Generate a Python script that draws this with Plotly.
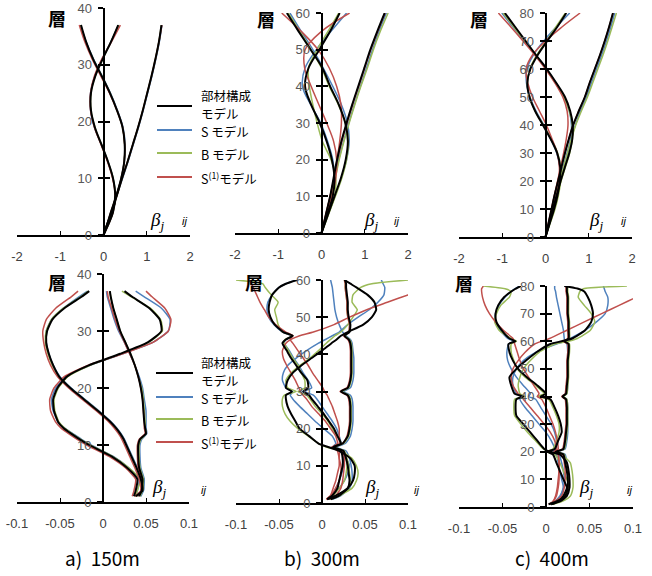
import plotly.graph_objects as go

W, H = 652, 576
COL = {"black": "#000000", "blue": "#4f81bd", "green": "#9bbb59", "red": "#c0504d"}
MODELS = ["blue", "green", "red", "black"]

# ---------------- top a) 150m : mode shapes ----------------
TA_F = [0, 2, 4, 7, 10, 13, 16, 19, 22, 25, 28, 31, 34, 37]
TA_BLACK = [[0, 0.09, 0.19, 0.31, 0.43, 0.56, 0.68, 0.8, 0.91, 1.01, 1.11, 1.2, 1.28, 1.34],
            [0, 0.09, 0.17, 0.3, 0.41, 0.48, 0.49, 0.44, 0.31, 0.15, -0.04, -0.24, -0.4, -0.52],
            [0, 0.12, 0.22, 0.27, 0.22, 0.1, -0.05, -0.2, -0.29, -0.29, -0.19, -0.02, 0.17, 0.34]]
TA_BLUE = [[0, 0.09, 0.19, 0.31, 0.44, 0.57, 0.69, 0.81, 0.92, 1.02, 1.12, 1.21, 1.29, 1.35],
           [0, 0.09, 0.17, 0.3, 0.41, 0.48, 0.5, 0.45, 0.32, 0.16, -0.03, -0.23, -0.4, -0.53],
           [0, 0.12, 0.22, 0.27, 0.22, 0.1, -0.05, -0.21, -0.3, -0.3, -0.2, -0.03, 0.17, 0.35]]
TA_GREEN = [[0, 0.09, 0.19, 0.31, 0.43, 0.56, 0.68, 0.8, 0.91, 1.01, 1.11, 1.2, 1.28, 1.34],
            [0, 0.09, 0.17, 0.3, 0.41, 0.48, 0.49, 0.44, 0.31, 0.15, -0.04, -0.24, -0.41, -0.53],
            [0, 0.12, 0.22, 0.27, 0.22, 0.1, -0.05, -0.2, -0.29, -0.29, -0.19, -0.02, 0.17, 0.35]]
TA_RED = [[0, 0.09, 0.19, 0.31, 0.43, 0.56, 0.68, 0.8, 0.91, 1.01, 1.11, 1.2, 1.28, 1.35],
          [0, 0.09, 0.17, 0.3, 0.41, 0.48, 0.49, 0.44, 0.31, 0.14, -0.06, -0.26, -0.43, -0.56],
          [0, 0.12, 0.22, 0.27, 0.21, 0.09, -0.06, -0.21, -0.3, -0.3, -0.21, -0.04, 0.18, 0.39]]

# ---------------- top b) 300m ----------------
TB_F = [0, 5, 10, 15, 20, 25, 30, 35, 40, 45, 50, 55, 60]
TB_BLACK = [[0, 0.1, 0.2, 0.28, 0.36, 0.46, 0.58, 0.71, 0.85, 0.99, 1.13, 1.29, 1.46],
            [0, 0.15, 0.3, 0.45, 0.56, 0.61, 0.55, 0.4, 0.2, 0.02, -0.25, -0.53, -0.8],
            [0, 0.13, 0.26, 0.3, 0.24, 0.12, -0.04, -0.24, -0.38, -0.3, -0.05, 0.2, 0.42]]
TB_BLUE = [[0, 0.11, 0.22, 0.31, 0.4, 0.51, 0.63, 0.76, 0.9, 1.04, 1.18, 1.33, 1.5],
           [0, 0.15, 0.31, 0.46, 0.58, 0.64, 0.6, 0.46, 0.26, 0.04, -0.2, -0.47, -0.73],
           [0, 0.12, 0.24, 0.3, 0.26, 0.14, -0.02, -0.25, -0.44, -0.38, -0.12, 0.22, 0.58]]
TB_GREEN = [[0, 0.11, 0.22, 0.32, 0.41, 0.52, 0.64, 0.77, 0.91, 1.06, 1.2, 1.36, 1.54],
            [0, 0.16, 0.32, 0.47, 0.58, 0.62, 0.55, 0.39, 0.18, 0.0, -0.24, -0.5, -0.77],
            [0, 0.15, 0.3, 0.33, 0.22, 0.02, -0.1, -0.2, -0.28, -0.3, -0.1, 0.15, 0.4]]
TB_RED = [[0, 0.1, 0.2, 0.29, 0.37, 0.47, 0.59, 0.72, 0.86, 1.0, 1.14, 1.3, 1.47],
          [0, 0.1, 0.2, 0.29, 0.36, 0.42, 0.46, 0.45, 0.35, 0.18, -0.08, -0.47, -0.92],
          [0, 0.12, 0.24, 0.33, 0.35, 0.28, 0.12, -0.06, -0.24, -0.39, -0.38, 0.0, 0.65]]

# ---------------- top c) 400m ----------------
TC_F = [0, 5, 10, 15, 20, 25, 30, 35, 40, 45, 50, 55, 60, 65, 70, 75, 80]
TC_BLACK = [[0, 0.07, 0.14, 0.21, 0.29, 0.37, 0.45, 0.54, 0.64, 0.77, 0.91, 1.02, 1.14, 1.26, 1.37, 1.47, 1.56],
            [0, 0.09, 0.17, 0.26, 0.35, 0.45, 0.55, 0.62, 0.63, 0.57, 0.45, 0.25, 0.03, -0.22, -0.46, -0.7, -0.94],
            [0, 0.1, 0.2, 0.28, 0.33, 0.34, 0.27, 0.12, -0.06, -0.24, -0.37, -0.42, -0.35, -0.18, 0.04, 0.27, 0.48]]
TC_BLUE = [[0, 0.08, 0.16, 0.24, 0.32, 0.41, 0.5, 0.59, 0.69, 0.81, 0.95, 1.06, 1.18, 1.3, 1.41, 1.51, 1.6],
           [0, 0.08, 0.16, 0.24, 0.33, 0.42, 0.51, 0.58, 0.6, 0.55, 0.43, 0.24, 0.02, -0.23, -0.49, -0.75, -1.01],
           [0, 0.1, 0.2, 0.28, 0.33, 0.33, 0.26, 0.12, -0.04, -0.22, -0.36, -0.44, -0.43, -0.28, -0.04, 0.25, 0.56]]
TC_GREEN = [[0, 0.08, 0.16, 0.25, 0.33, 0.42, 0.51, 0.6, 0.7, 0.83, 0.97, 1.09, 1.21, 1.33, 1.44, 1.54, 1.64],
            [0, 0.09, 0.18, 0.27, 0.36, 0.46, 0.56, 0.62, 0.62, 0.55, 0.42, 0.23, 0.01, -0.23, -0.48, -0.73, -0.98],
            [0, 0.11, 0.22, 0.3, 0.35, 0.35, 0.28, 0.13, -0.05, -0.24, -0.37, -0.42, -0.36, -0.2, 0.02, 0.24, 0.46]]
TC_RED = [[0, 0.07, 0.14, 0.21, 0.29, 0.37, 0.45, 0.54, 0.64, 0.77, 0.91, 1.02, 1.14, 1.26, 1.37, 1.47, 1.56],
          [0, 0.07, 0.14, 0.21, 0.28, 0.35, 0.42, 0.48, 0.52, 0.5, 0.4, 0.22, 0.0, -0.25, -0.52, -0.8, -1.09],
          [0, 0.09, 0.18, 0.26, 0.31, 0.32, 0.27, 0.15, 0.02, -0.14, -0.3, -0.41, -0.45, -0.3, 0.0, 0.38, 0.8]]

# ---------------- bottom a) 150m : beta ----------------
BA_F = [1, 2, 4, 6, 8, 10, 11, 12, 13, 14, 16, 18, 20, 22, 24, 26, 28, 30, 32, 34, 36, 37]
BA_BLACK = [[0.042, 0.045, 0.046, 0.042, 0.041, 0.041, 0.043, 0.05, 0.049, 0.048, 0.047, 0.046, 0.044, 0.041, 0.037, 0.032, 0.026, 0.02, 0.016, 0.012, 0.009, 0.008],
            [0.038, 0.046, 0.044, 0.039, 0.033, 0.027, 0.024, 0.02, 0.015, 0.009, -0.006, -0.022, -0.038, -0.051, -0.058, -0.063, -0.066, -0.065, -0.059, -0.045, -0.025, -0.016],
            [0.036, 0.038, 0.04, 0.028, 0.01, -0.016, -0.027, -0.037, -0.046, -0.052, -0.057, -0.058, -0.053, -0.042, -0.016, 0.02, 0.052, 0.068, 0.066, 0.054, 0.034, 0.025]]
BA_BLUE = [[0.044, 0.047, 0.048, 0.044, 0.043, 0.043, 0.045, 0.051, 0.05, 0.05, 0.05, 0.048, 0.046, 0.042, 0.037, 0.031, 0.025, 0.018, 0.013, 0.009, 0.005, 0.004],
           [0.04, 0.047, 0.045, 0.04, 0.034, 0.028, 0.025, 0.021, 0.016, 0.01, -0.005, -0.021, -0.037, -0.05, -0.058, -0.063, -0.066, -0.066, -0.06, -0.046, -0.028, -0.018],
           [0.038, 0.04, 0.042, 0.03, 0.012, -0.014, -0.025, -0.035, -0.045, -0.052, -0.058, -0.06, -0.055, -0.043, -0.015, 0.023, 0.058, 0.076, 0.078, 0.068, 0.048, 0.038]]
BA_GREEN = [[0.043, 0.046, 0.047, 0.043, 0.042, 0.042, 0.044, 0.05, 0.049, 0.049, 0.048, 0.047, 0.045, 0.041, 0.037, 0.032, 0.026, 0.02, 0.016, 0.012, 0.009, 0.008],
            [0.039, 0.046, 0.044, 0.039, 0.033, 0.027, 0.024, 0.02, 0.015, 0.009, -0.006, -0.022, -0.038, -0.051, -0.059, -0.064, -0.067, -0.066, -0.06, -0.046, -0.026, -0.017],
            [0.037, 0.04, 0.043, 0.03, 0.011, -0.015, -0.026, -0.036, -0.045, -0.051, -0.056, -0.057, -0.052, -0.041, -0.015, 0.021, 0.053, 0.069, 0.067, 0.055, 0.033, 0.022]]
BA_RED = [[0.041, 0.044, 0.045, 0.041, 0.04, 0.04, 0.042, 0.049, 0.048, 0.048, 0.047, 0.046, 0.044, 0.041, 0.037, 0.031, 0.025, 0.019, 0.014, 0.01, 0.006, 0.005],
          [0.037, 0.044, 0.042, 0.037, 0.031, 0.025, 0.022, 0.018, 0.013, 0.007, -0.008, -0.024, -0.04, -0.053, -0.061, -0.066, -0.069, -0.07, -0.066, -0.055, -0.037, -0.029],
          [0.034, 0.036, 0.038, 0.026, 0.007, -0.019, -0.03, -0.04, -0.049, -0.055, -0.061, -0.062, -0.057, -0.045, -0.017, 0.023, 0.058, 0.076, 0.079, 0.072, 0.057, 0.05]]

# ---------------- bottom b) 300m ----------------
BB_F = [1, 2, 4, 6, 8, 10, 12, 14, 15, 16, 18, 20, 22, 24, 26, 28, 29, 30, 31, 33, 35, 37, 39, 41, 43, 44, 45, 46, 48, 50, 52, 54, 56, 58, 59, 60]
BB_BLACK = [[0.01, 0.02, 0.03, 0.032, 0.031, 0.03, 0.028, 0.025, 0.013, 0.024, 0.03, 0.032, 0.033, 0.033, 0.033, 0.032, 0.03, 0.022, 0.03, 0.033, 0.034, 0.034, 0.034, 0.034, 0.033, 0.031, 0.026, 0.032, 0.033, 0.031, 0.03, 0.03, 0.029, 0.028, 0.028, 0.027],
            [0.006, 0.016, 0.03, 0.036, 0.038, 0.038, 0.033, 0.02, 0.008, -0.004, -0.015, -0.026, -0.031, -0.036, -0.04, -0.042, -0.042, -0.035, -0.042, -0.04, -0.034, -0.024, -0.012, 0.0, 0.011, 0.017, 0.022, 0.03, 0.048, 0.058, 0.063, 0.061, 0.053, 0.04, 0.033, 0.026],
            [0.006, 0.012, 0.018, 0.02, 0.022, 0.024, 0.024, 0.022, 0.013, 0.022, 0.018, 0.014, 0.008, 0.002, -0.005, -0.012, -0.015, -0.022, -0.016, -0.017, -0.024, -0.03, -0.036, -0.041, -0.046, -0.042, -0.034, -0.045, -0.055, -0.06, -0.062, -0.061, -0.058, -0.05, -0.042, -0.029]]
BB_BLUE = [[0.012, 0.022, 0.032, 0.035, 0.035, 0.034, 0.032, 0.028, 0.016, 0.027, 0.033, 0.035, 0.036, 0.036, 0.036, 0.035, 0.033, 0.025, 0.033, 0.036, 0.037, 0.037, 0.037, 0.036, 0.035, 0.033, 0.028, 0.024, 0.02, 0.017, 0.015, 0.014, 0.013, 0.012, 0.011, 0.01],
           [0.006, 0.012, 0.02, 0.026, 0.03, 0.032, 0.028, 0.02, 0.012, 0.016, 0.012, 0.002, -0.008, -0.017, -0.026, -0.034, -0.037, -0.034, -0.042, -0.046, -0.045, -0.04, -0.03, -0.018, -0.004, 0.004, 0.012, 0.02, 0.03, 0.042, 0.055, 0.065, 0.072, 0.073, 0.071, 0.069],
           [0.006, 0.012, 0.016, 0.02, 0.023, 0.025, 0.025, 0.022, 0.014, 0.022, 0.02, 0.017, 0.012, 0.006, 0.0, -0.006, -0.01, -0.02, -0.012, -0.016, -0.022, -0.027, -0.033, -0.038, -0.044, -0.042, -0.035, -0.046, -0.056, -0.062, -0.064, -0.063, -0.058, -0.05, -0.042, -0.03]]
BB_GREEN = [[0.01, 0.021, 0.031, 0.033, 0.032, 0.031, 0.029, 0.026, 0.014, 0.025, 0.031, 0.033, 0.034, 0.034, 0.034, 0.033, 0.031, 0.023, 0.031, 0.034, 0.035, 0.035, 0.035, 0.035, 0.034, 0.032, 0.027, 0.031, 0.032, 0.03, 0.029, 0.029, 0.028, 0.027, 0.027, 0.026],
            [0.008, 0.02, 0.035, 0.04, 0.042, 0.04, 0.035, 0.022, 0.006, -0.004, -0.016, -0.028, -0.037, -0.043, -0.046, -0.046, -0.044, -0.03, -0.04, -0.042, -0.036, -0.026, -0.014, -0.004, 0.005, 0.01, 0.015, 0.022, 0.03, 0.036, 0.041, 0.035, 0.036, 0.045, 0.058, 0.1],
            [0.008, 0.013, 0.02, 0.026, 0.028, 0.029, 0.028, 0.024, 0.014, 0.022, 0.018, 0.012, 0.007, 0.0, -0.008, -0.014, -0.018, -0.028, -0.02, -0.02, -0.024, -0.028, -0.034, -0.039, -0.044, -0.043, -0.034, -0.046, -0.051, -0.053, -0.055, -0.051, -0.059, -0.066, -0.069, -0.1]]
BB_RED = [[0.008, 0.016, 0.022, 0.024, 0.025, 0.026, 0.026, 0.024, 0.012, 0.024, 0.029, 0.031, 0.032, 0.032, 0.032, 0.031, 0.029, 0.021, 0.029, 0.032, 0.033, 0.033, 0.033, 0.033, 0.032, 0.03, 0.025, 0.031, 0.032, 0.03, 0.029, 0.029, 0.028, 0.027, 0.027, 0.026],
          [0.005, 0.01, 0.016, 0.02, 0.022, 0.022, 0.02, 0.018, 0.012, 0.018, 0.016, 0.01, 0.004, -0.004, -0.012, -0.018, -0.022, -0.025, -0.027, -0.031, -0.036, -0.041, -0.045, -0.046, -0.042, -0.036, -0.026, -0.01, 0.014, 0.032, 0.052, 0.076, 0.1, 0.125, 0.135, 0.145],
          [0.005, 0.01, 0.013, 0.016, 0.018, 0.02, 0.02, 0.02, 0.011, 0.02, 0.02, 0.02, 0.018, 0.015, 0.012, 0.008, 0.006, 0.003, 0.001, -0.005, -0.011, -0.016, -0.022, -0.028, -0.034, -0.037, -0.034, -0.042, -0.054, -0.062, -0.067, -0.072, -0.076, -0.08, -0.082, -0.084]]

# ---------------- bottom c) 400m ----------------
BC_F = [1, 2, 4, 7, 10, 13, 16, 19, 20, 21, 24, 27, 30, 33, 36, 39, 40, 41, 44, 47, 50, 53, 56, 59, 60, 61, 64, 67, 70, 73, 76, 78, 79, 80]
BC_BLACK = [[0.003, 0.012, 0.022, 0.025, 0.025, 0.024, 0.022, 0.02, 0.011, 0.02, 0.022, 0.023, 0.024, 0.024, 0.024, 0.023, 0.019, 0.023, 0.024, 0.025, 0.025, 0.025, 0.026, 0.026, 0.021, 0.026, 0.026, 0.026, 0.025, 0.025, 0.025, 0.024, 0.024, 0.024],
            [0.006, 0.016, 0.024, 0.027, 0.027, 0.026, 0.024, 0.016, 0.004, -0.002, -0.01, -0.018, -0.026, -0.034, -0.035, -0.034, -0.026, -0.036, -0.04, -0.042, -0.034, -0.023, -0.011, 0.005, 0.018, 0.03, 0.045, 0.052, 0.054, 0.052, 0.048, 0.044, 0.037, 0.021],
            [0.006, 0.014, 0.02, 0.024, 0.02, 0.016, 0.012, 0.008, 0.002, 0.01, 0.014, 0.018, 0.017, 0.014, 0.01, 0.005, -0.006, 0.0, -0.01, -0.022, -0.032, -0.038, -0.042, -0.043, -0.035, -0.042, -0.051, -0.057, -0.058, -0.055, -0.048, -0.04, -0.035, -0.029]]
BC_BLUE = [[0.004, 0.013, 0.023, 0.026, 0.026, 0.025, 0.024, 0.022, 0.013, 0.022, 0.024, 0.025, 0.025, 0.025, 0.025, 0.024, 0.02, 0.024, 0.025, 0.025, 0.025, 0.025, 0.025, 0.024, 0.022, 0.021, 0.02, 0.018, 0.016, 0.014, 0.012, 0.011, 0.01, 0.01],
           [0.005, 0.01, 0.016, 0.02, 0.021, 0.02, 0.018, 0.015, 0.008, 0.01, 0.006, 0.0, -0.008, -0.016, -0.024, -0.03, -0.026, -0.034, -0.038, -0.038, -0.034, -0.026, -0.012, 0.012, 0.022, 0.028, 0.045, 0.058, 0.068, 0.071, 0.071, 0.068, 0.067, 0.066],
           [0.005, 0.012, 0.017, 0.02, 0.018, 0.016, 0.014, 0.012, 0.006, 0.012, 0.012, 0.01, 0.006, 0.0, -0.006, -0.012, -0.02, -0.018, -0.026, -0.034, -0.04, -0.044, -0.045, -0.043, -0.037, -0.044, -0.053, -0.058, -0.058, -0.054, -0.047, -0.04, -0.036, -0.03]]
BC_GREEN = [[0.004, 0.013, 0.023, 0.026, 0.026, 0.025, 0.023, 0.021, 0.012, 0.021, 0.023, 0.024, 0.025, 0.025, 0.025, 0.024, 0.02, 0.024, 0.025, 0.026, 0.026, 0.026, 0.027, 0.027, 0.022, 0.027, 0.027, 0.027, 0.026, 0.026, 0.026, 0.025, 0.025, 0.025],
            [0.008, 0.018, 0.028, 0.031, 0.031, 0.03, 0.028, 0.018, 0.004, -0.003, -0.012, -0.021, -0.029, -0.036, -0.037, -0.036, -0.024, -0.03, -0.032, -0.03, -0.026, -0.018, -0.008, 0.01, 0.026, 0.036, 0.051, 0.056, 0.052, 0.044, 0.037, 0.039, 0.043, 0.093],
            [0.008, 0.015, 0.022, 0.027, 0.024, 0.02, 0.016, 0.01, 0.0, 0.008, 0.012, 0.015, 0.015, 0.012, 0.008, 0.003, -0.01, -0.002, -0.012, -0.024, -0.033, -0.037, -0.04, -0.04, -0.034, -0.04, -0.054, -0.059, -0.057, -0.052, -0.042, -0.04, -0.047, -0.072]]
BC_RED = [[0.003, 0.01, 0.018, 0.021, 0.022, 0.022, 0.021, 0.019, 0.01, 0.019, 0.021, 0.022, 0.023, 0.023, 0.023, 0.022, 0.018, 0.022, 0.023, 0.024, 0.024, 0.024, 0.025, 0.025, 0.02, 0.025, 0.025, 0.025, 0.024, 0.024, 0.024, 0.023, 0.023, 0.023],
          [0.004, 0.008, 0.012, 0.014, 0.015, 0.015, 0.015, 0.014, 0.01, 0.012, 0.01, 0.005, -0.002, -0.01, -0.018, -0.026, -0.028, -0.032, -0.038, -0.04, -0.038, -0.032, -0.024, -0.013, -0.005, 0.004, 0.024, 0.044, 0.064, 0.084, 0.104, 0.117, 0.124, 0.13],
          [0.004, 0.008, 0.011, 0.013, 0.014, 0.015, 0.015, 0.014, 0.009, 0.014, 0.013, 0.011, 0.008, 0.004, 0.0, -0.005, -0.01, -0.008, -0.014, -0.02, -0.026, -0.03, -0.033, -0.036, -0.037, -0.038, -0.049, -0.058, -0.065, -0.07, -0.073, -0.074, -0.074, -0.072]]

TOP_TICKS = [-2, -1, 0, 1, 2]
TOP_TICKTEXT = ["-2", "-1", "0", "1", "2"]
BOT_TICKS = [-0.1, -0.05, 0, 0.05, 0.1]
BOT_TICKTEXT = ["-0.1", "-0.05", "0", "0.05", "0.1"]
CAPTIONS = ["a)  150m", "b)  300m", "c)  400m"]
LEGEND_NAMES = ["部材構成", "S モデル", "B モデル", "S<sup>(1)</sup>モデル"]
LEGEND_SECOND_LINE = "モデル"

# panel geometry in pixels: x-left, x-right, y-bottom, y-top
PANELS = [
    dict(F=TA_F, D=dict(black=TA_BLACK, blue=TA_BLUE, green=TA_GREEN, red=TA_RED), px=(17, 190, 235, 8), ymax=40, top=True),
    dict(F=TB_F, D=dict(black=TB_BLACK, blue=TB_BLUE, green=TB_GREEN, red=TB_RED), px=(235, 408, 233, 13), ymax=60, top=True),
    dict(F=TC_F, D=dict(black=TC_BLACK, blue=TC_BLUE, green=TC_GREEN, red=TC_RED), px=(459, 632, 237, 13), ymax=80, top=True),
    dict(F=BA_F, D=dict(black=BA_BLACK, blue=BA_BLUE, green=BA_GREEN, red=BA_RED), px=(17, 189, 502, 274), ymax=40, top=False),
    dict(F=BB_F, D=dict(black=BB_BLACK, blue=BB_BLUE, green=BB_GREEN, red=BB_RED), px=(236, 408, 503, 280), ymax=60, top=False),
    dict(F=BC_F, D=dict(black=BC_BLACK, blue=BC_BLUE, green=BC_GREEN, red=BC_RED), px=(459, 633, 507, 286), ymax=80, top=False),
]

def px2x(p):
    return p / W

def py2y(p):
    return 1 - p / H

fig = go.Figure()
layout = dict(template="none", width=W, height=H,
              margin=dict(l=0, r=0, t=0, b=0, pad=0, autoexpand=False),
              paper_bgcolor="white", plot_bgcolor="rgba(0,0,0,0)", showlegend=False)

TICKFONT = dict(family="Liberation Sans, Arial", size=13, color="#404040")
YTICKFONT = dict(family="Liberation Sans, Arial", size=13, color="#595959")

for i, p in enumerate(PANELS):
    n = i + 1
    xa = "x" if n == 1 else f"x{n}"
    ya = "y" if n == 1 else f"y{n}"
    yo = f"y{n + 6}"
    x0, x1, yb, yt = p["px"]
    xdom = [px2x(x0), px2x(x1)]
    ydom = [py2y(yb), py2y(yt)]
    center = (xdom[0] + xdom[1]) / 2
    if p["top"]:
        xr, tv, tt, shape, smooth = [-2, 2], TOP_TICKS, TOP_TICKTEXT, "spline", 1.0
    else:
        xr, tv, tt, shape, smooth = [-0.1, 0.1], BOT_TICKS, BOT_TICKTEXT, "spline", 0.5
    for m in MODELS:
        for curve in p["D"][m]:
            fig.add_trace(go.Scatter(
                x=curve, y=p["F"], mode="lines", xaxis=xa, yaxis=ya,
                line=dict(color=COL[m], width=2.0 if m == "black" else 1.5,
                          shape=shape, smoothing=smooth),
                hoverinfo="skip", showlegend=False))
    fig.add_trace(go.Scatter(x=[0], y=[0], xaxis=xa, yaxis=yo, opacity=0,
                             mode="markers", marker=dict(size=1), hoverinfo="skip",
                             showlegend=False))
    xkey = "xaxis" if n == 1 else f"xaxis{n}"
    ykey = "yaxis" if n == 1 else f"yaxis{n}"
    layout[xkey] = dict(domain=xdom, range=xr, anchor=ya, showgrid=False, zeroline=False,
                        automargin=False,
                        showline=True, linecolor="black", linewidth=1.5,
                        ticks="inside", ticklen=4, tickwidth=1.3, tickcolor="black",
                        tickvals=tv, ticktext=tt, tickfont=TICKFONT,
                        ticklabelstandoff=9, fixedrange=True)
    layout[ykey] = dict(domain=ydom, range=[0, p["ymax"]], anchor="free", position=center,
                        automargin=False,
                        showgrid=False, zeroline=False, showline=True, linecolor="black",
                        linewidth=1.8, ticks="outside", ticklen=5, tickwidth=1.5,
                        tickcolor="black", dtick=10, tick0=0, tickfont=YTICKFONT,
                        ticklabelstandoff=3, fixedrange=True)
    layout[f"yaxis{n + 6}"] = dict(overlaying=ya, range=[0, p["ymax"]], anchor="free",
                                   position=center, showgrid=False, zeroline=False,
                                   automargin=False,
                                   showline=False, ticks="inside", ticklen=5, tickwidth=1.5,
                                   tickcolor="black", dtick=10, tick0=0,
                                   showticklabels=False, fixedrange=True)

fig.update_layout(**layout)

ann = []
def note(x, y, text, font, xanchor="center", yanchor="middle", align="center"):
    ann.append(dict(x=px2x(x), y=py2y(y), xref="paper", yref="paper", text=text,
                    showarrow=False, xanchor=xanchor, yanchor=yanchor, align=align,
                    font=font))

# 層 labels
for (cx, cy) in [(57, 18), (266, 19), (479, 19), (57, 282), (254, 282), (464, 283)]:
    note(cx, cy, "<b>層</b>", dict(family="Noto Sans CJK JP", size=18, color="black"))
# beta labels
for (bx, by, ix, iy) in [(148, 221, 184, 221), (362, 221, 396, 221), (587, 221, 623, 221),
                         (150, 488, 203, 490), (363, 488, 416, 490), (577, 488, 629, 490)]:
    note(bx, by, "<i>β<sub>j</sub></i>",
         dict(family="Liberation Serif, DejaVu Serif", size=19, color="black"), xanchor="left")
    note(ix, iy, "<i>ij</i>", dict(family="Liberation Sans, Arial", size=11, color="black"))
# captions
for (cx, txt) in zip([102, 322, 552], CAPTIONS):
    note(cx, 557, txt, dict(family="Noto Sans CJK JP", size=19, color="black"))

shapes = []
legend_sets = [
    dict(lx0=157, lx1=192, ly=[106, 130, 153, 177], ty=[95.5, 131, 154, 178], ty2=113.5, tx=199),
    dict(lx0=156, lx1=193, ly=[373, 397, 419, 442], ty=[362, 398, 420, 443], ty2=380, tx=199),
]
LEG_COLORS = ["black", "blue", "green", "red"]
LEGFONT = dict(family="Noto Sans CJK JP", size=12.5, color="black")
for ls in legend_sets:
    for k, c in enumerate(LEG_COLORS):
        shapes.append(dict(type="line", xref="paper", yref="paper",
                           x0=px2x(ls["lx0"]), x1=px2x(ls["lx1"]),
                           y0=py2y(ls["ly"][k]), y1=py2y(ls["ly"][k]),
                           line=dict(color=COL[c], width=2)))
        note(ls["tx"], ls["ty"][k], LEGEND_NAMES[k], LEGFONT, xanchor="left", align="left")
    note(ls["tx"], ls["ty2"], LEGEND_SECOND_LINE, LEGFONT, xanchor="left", align="left")

fig.update_layout(annotations=ann, shapes=shapes)
fig.write_html("out.html", config={"displayModeBar": False},
               post_script="document.body.style.margin='0px';document.body.style.overflow='hidden';")
